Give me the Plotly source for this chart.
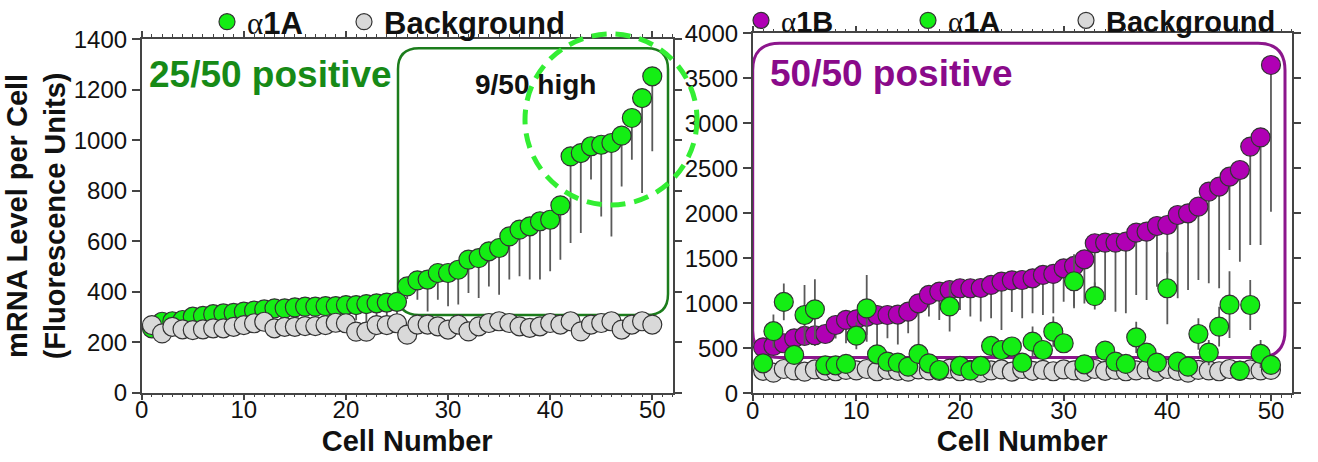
import plotly.graph_objects as go

W, H = 1318, 462
cells = list(range(1, 51))

# ---- left panel: alpha1A + background ----
left_a1a = [255, 281, 283, 288, 301, 304, 311, 314, 316, 321, 325, 330, 334, 334, 338,
            341, 341, 343, 343, 347, 347, 351, 354, 357, 360,
            421, 445, 448, 474, 474, 487, 527, 533, 560, 573, 619, 646, 659, 679, 685,
            742, 936, 949, 976, 982, 989, 1018, 1088, 1167, 1253]
left_a1a_err = [15, 20, 15, 20, 20, 20, 25, 25, 20, 25, 25, 30, 25, 30, 30,
                30, 35, 35, 40, 40, 60, 75, 60, 80, 70,
                50, 77, 126, 106, 132, 138, 132, 158, 139, 185, 171, 185, 211, 231, 204,
                215, 343, 317, 132, 284, 370, 201, 165, 376, 297]
left_bg = [268, 235, 261, 251, 248, 251, 255, 255, 261, 268, 275, 281, 255, 261, 261,
           264, 264, 268, 277, 275, 242, 242, 268, 268, 275,
           230, 270, 270, 263, 250, 270, 243, 263, 276, 283, 276, 263, 257, 263, 276,
           270, 283, 243, 270, 276, 283, 250, 270, 283, 270]

# ---- right panel: alpha1B, alpha1A, background ----
right_a1b = [511, 526, 556, 611, 637, 645, 659, 759, 815, 822, 850, 870, 870, 875, 907,
             1000, 1093, 1130, 1148, 1167, 1167, 1170, 1204, 1241, 1255,
             1259, 1278, 1315, 1326, 1389, 1415, 1489, 1667, 1674, 1674, 1685, 1785, 1796, 1859, 1870,
             1981, 2000, 2074, 2241, 2296, 2407, 2481, 2741, 2844, 3648]
right_a1b_err = [40, 50, 60, 80, 100, 120, 100, 150, 259, 180, 200, 370, 259, 333, 240,
                 537, 241, 315, 280, 241, 315, 371, 371, 537, 352,
                 426, 389, 445, 437, 371, 450, 490, 600, 637, 767, 796, 693, 759, 674, 540,
                 926, 852, 815, 1019, 1129, 814, 1018, 1093, 1196, 1630]
right_a1a = [333, 690, 1015, 426, 870, 933, 311, 311, 326, 640, 944, 433, 352, 341, 296,
             437, 333, 259, 965, 304, 252, 304, 526, 481, 520,
             340, 574, 481, 685, 556, 1245, 322, 1080, 474, 352, 326, 622, 452, 341, 1167,
             352, 296, 659, 452, 741, 985, 252, 981, 437, 315]
right_a1a_err = [60, 185, 204, 80, 333, 333, 40, 40, 40, 150, 370, 80, 50, 50, 40,
                 90, 50, 40, 278, 40, 40, 40, 100, 80, 90,
                 50, 167, 90, 167, 100, 300, 50, 150, 80, 60, 50, 174, 80, 50, 400,
                 60, 50, 174, 140, 220, 370, 50, 278, 155, 60]
right_bg = [250, 230, 270, 255, 240, 265, 250, 245, 260, 255, 270, 245, 260, 250, 240,
            265, 255, 250, 275, 245, 260, 230, 255, 265, 240,
            270, 250, 260, 245, 265, 255, 240, 270, 250, 260, 245, 255, 265, 240, 270,
            250, 230, 260, 255, 245, 270, 250, 265, 255, 260]

left_yticks = [0, 200, 400, 600, 800, 1000, 1200, 1400]
right_yticks = [0, 500, 1000, 1500, 2000, 2500, 3000, 3500, 4000]
xticks = [0, 10, 20, 30, 40, 50]

GREEN = "#14ee14"
MAGENTA = "#b000b4"
GRAYF = "#d9d9d9"
EDGE = "#333333"
BARC = "#5a5a5a"
FONT = "Liberation Sans, Arial, sans-serif"
MSIZE = 19


def px(x):
    return x / W


def py(y):
    return 1 - y / H


def rounded_rect(x0, y0, x1, y1, r):
    rx, ry = r / W, r / H
    X0, X1 = px(x0), px(x1)
    Y0, Y1 = py(y0), py(y1)  # Y0 top (larger), Y1 bottom
    return (f"M {X0+rx},{Y0} L {X1-rx},{Y0} Q {X1},{Y0} {X1},{Y0-ry} "
            f"L {X1},{Y1+ry} Q {X1},{Y1} {X1-rx},{Y1} "
            f"L {X0+rx},{Y1} Q {X0},{Y1} {X0},{Y1+ry} "
            f"L {X0},{Y0-ry} Q {X0},{Y0} {X0+rx},{Y0} Z")


alpha = "<span style='font-family:Liberation Serif, serif;font-weight:normal'>α</span>"

fig = go.Figure()

# left panel
fig.add_trace(go.Scatter(
    x=cells, y=left_a1a, mode="markers", name=alpha + "1A",
    marker=dict(color=GREEN, size=MSIZE, line=dict(color=EDGE, width=1.2)),
    error_y=dict(type="data", symmetric=False, array=[0] * 50, arrayminus=left_a1a_err,
                 color=BARC, thickness=1.8, width=0),
    xaxis="x", yaxis="y", legend="legend"))
fig.add_trace(go.Scatter(
    x=cells, y=left_bg, mode="markers", name="Background",
    marker=dict(color=GRAYF, size=MSIZE, line=dict(color=EDGE, width=1.2)),
    xaxis="x", yaxis="y", legend="legend2"))

# right panel
fig.add_trace(go.Scatter(
    x=cells, y=right_bg, mode="markers", name="Background",
    marker=dict(color=GRAYF, size=MSIZE, line=dict(color=EDGE, width=1.2)),
    xaxis="x2", yaxis="y2", legend="legend5"))
fig.add_trace(go.Scatter(
    x=cells, y=right_a1b, mode="markers", name=alpha + "1B",
    marker=dict(color=MAGENTA, size=MSIZE, line=dict(color=EDGE, width=1.2)),
    error_y=dict(type="data", symmetric=False, array=[0] * 50, arrayminus=right_a1b_err,
                 color=BARC, thickness=1.8, width=0),
    xaxis="x2", yaxis="y2", legend="legend3"))
fig.add_trace(go.Scatter(
    x=cells, y=right_a1a, mode="markers", name=alpha + "1A",
    marker=dict(color=GREEN, size=MSIZE, line=dict(color=EDGE, width=1.2)),
    error_y=dict(type="data", array=right_a1a_err, color=BARC, thickness=1.8, width=0),
    xaxis="x2", yaxis="y2", legend="legend4"))

axis_common = dict(showline=True, linecolor="#444444", linewidth=1.5, mirror="ticks",
                   ticks="outside", ticklen=8, tickwidth=1.5, tickcolor="#444444",
                   showgrid=False, zeroline=False,
                   tickfont=dict(family=FONT, size=24, color="#111111"))

xdom_l = [141.7 / W, 672.7 / W]
xdom_r = [752.7 / W, 1291.7 / W]

xa = dict(axis_common, range=[0, 52], tickvals=xticks, ticklen=6,
          minor=dict(dtick=1, ticks="outside", ticklen=3, tickwidth=1, tickcolor="#444444"),
          title=dict(text="<b>Cell Number</b>", font=dict(family=FONT, size=29, color="#111111"),
                     standoff=8))


def legend_at(xpix, size):
    return dict(orientation="h", x=px(xpix), y=1 + 5 / H, xanchor="left", yanchor="top",
                bgcolor="rgba(0,0,0,0)",
                font=dict(family=FONT, size=size, color="#111111", weight="bold"),
                itemsizing="trace")


fig.update_layout(
    width=W, height=H, autosize=False,
    margin=dict(l=0, r=0, t=0, b=0, autoexpand=False),
    paper_bgcolor="white", plot_bgcolor="white",
    xaxis=dict(xa, domain=xdom_l, anchor="y"),
    yaxis=dict(axis_common, domain=[py(392.7), py(39.2)], range=[0, 1400], tickvals=left_yticks,
               anchor="x",
               title=dict(text="<b>mRNA Level per Cell<br>(Fluorescence Units)</b>",
                          font=dict(family=FONT, size=29, color="#111111"), standoff=0)),
    xaxis2=dict(xa, domain=xdom_r, anchor="y2"),
    yaxis2=dict(axis_common, domain=[py(393.3), py(33.3)], range=[0, 4000], tickvals=right_yticks,
                anchor="x2"),
    legend=legend_at(207, 31),
    legend2=legend_at(344, 31),
    legend3=legend_at(741, 29),
    legend4=legend_at(908, 29),
    legend5=legend_at(1066, 29),
    showlegend=True,
)

# pull the x tick labels closer to the axis, as in the reference
try:
    fig.update_xaxes(ticklabelstandoff=-11)
except Exception:
    pass

shapes = [
    dict(type="path", xref="paper", yref="paper", layer="below",
         path=rounded_rect(398, 48.3, 668, 315, 21),
         line=dict(color="#1c7d1c", width=2.5)),
    dict(type="circle", xref="paper", yref="paper", layer="above",
         x0=px(525), x1=px(697), y0=py(205), y1=py(34),
         line=dict(color="#33ee33", width=5, dash="15px,9px")),
    dict(type="path", xref="paper", yref="paper", layer="below",
         path=rounded_rect(752.7, 43.3, 1285, 357.5, 27),
         line=dict(color="#8c168c", width=3)),
]
fig.update_layout(shapes=shapes)

annotations = [
    dict(text="<b>25/50 positive</b>", xref="paper", yref="paper", x=px(147), y=py(74),
         xanchor="left", yanchor="middle", showarrow=False,
         font=dict(family=FONT, size=37, color="#178a17")),
    dict(text="<b>9/50 high</b>", xref="paper", yref="paper", x=px(535), y=py(84),
         xanchor="center", yanchor="middle", showarrow=False,
         font=dict(family=FONT, size=28, color="#111111")),
    dict(text="<b>50/50 positive</b>", xref="paper", yref="paper", x=px(768), y=py(73),
         xanchor="left", yanchor="middle", showarrow=False,
         font=dict(family=FONT, size=37, color="#8a0a8a")),
]
fig.update_layout(annotations=annotations)

fig.write_html("out.html", config={"displayModeBar": False},
               post_script="document.body.style.margin='0px';")
